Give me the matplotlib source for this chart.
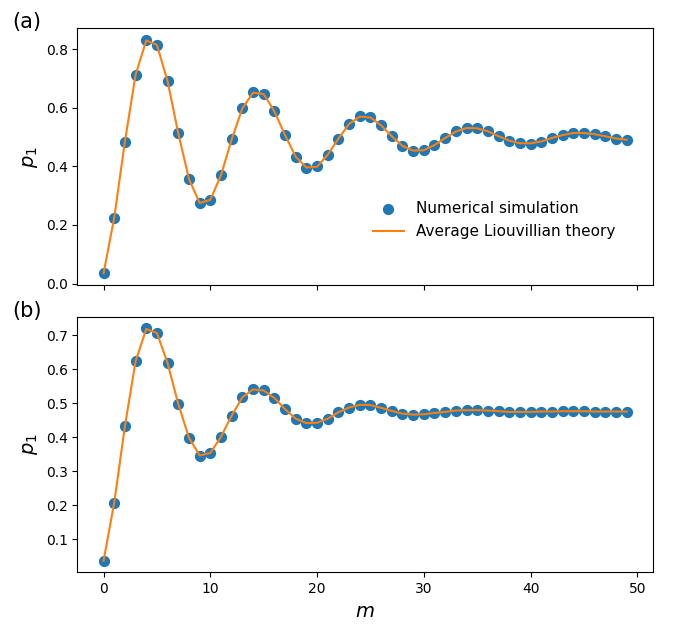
import numpy as np
import matplotlib
matplotlib.use("Agg")
import matplotlib.pyplot as plt

# m values (0..49)
m = np.arange(50)

# panel (a): numerical simulation / theory
p1_sim_a = [0.035, 0.225, 0.485, 0.713, 0.832, 0.816, 0.690, 0.513, 0.357, 0.275,
            0.285, 0.370, 0.492, 0.598, 0.654, 0.648, 0.588, 0.507, 0.433, 0.395,
            0.400, 0.440, 0.495, 0.545, 0.573, 0.568, 0.540, 0.503, 0.470, 0.453,
            0.455, 0.473, 0.497, 0.520, 0.532, 0.531, 0.520, 0.503, 0.487, 0.479,
            0.478, 0.485, 0.497, 0.508, 0.515, 0.515, 0.510, 0.503, 0.495, 0.491]
p1_th_a = [0.035, 0.225, 0.485, 0.713, 0.830, 0.815, 0.690, 0.513, 0.357, 0.275,
           0.286, 0.370, 0.492, 0.598, 0.652, 0.647, 0.588, 0.507, 0.433, 0.396,
           0.399, 0.440, 0.495, 0.545, 0.570, 0.567, 0.540, 0.503, 0.470, 0.454,
           0.455, 0.473, 0.497, 0.519, 0.531, 0.530, 0.520, 0.503, 0.488, 0.479,
           0.479, 0.485, 0.497, 0.507, 0.514, 0.514, 0.510, 0.503, 0.495, 0.491]

# panel (b)
p1_sim_b = [0.036, 0.207, 0.432, 0.623, 0.720, 0.707, 0.617, 0.497, 0.398, 0.345,
            0.353, 0.401, 0.463, 0.517, 0.542, 0.538, 0.515, 0.482, 0.454, 0.440,
            0.442, 0.454, 0.473, 0.486, 0.495, 0.494, 0.486, 0.477, 0.469, 0.465,
            0.467, 0.471, 0.474, 0.478, 0.480, 0.480, 0.478, 0.476, 0.474, 0.473,
            0.474, 0.475, 0.475, 0.476, 0.476, 0.476, 0.475, 0.475, 0.475, 0.475]
p1_th_b = [0.036, 0.207, 0.432, 0.623, 0.718, 0.706, 0.617, 0.497, 0.398, 0.346,
           0.353, 0.401, 0.463, 0.517, 0.540, 0.537, 0.515, 0.482, 0.454, 0.441,
           0.442, 0.454, 0.473, 0.487, 0.495, 0.494, 0.486, 0.477, 0.469, 0.466,
           0.467, 0.471, 0.474, 0.478, 0.479, 0.479, 0.478, 0.476, 0.474, 0.474,
           0.474, 0.475, 0.475, 0.476, 0.476, 0.476, 0.475, 0.475, 0.475, 0.475]

fig = plt.figure(figsize=(6.73, 6.27), dpi=100)
ax1 = fig.add_axes([0.115, 0.5455, 0.855, 0.4095])
ax2 = fig.add_axes([0.115, 0.087, 0.855, 0.408], sharex=ax1)

for ax, sim, th in [(ax1, p1_sim_a, p1_th_a), (ax2, p1_sim_b, p1_th_b)]:
    ax.scatter(m, sim, s=50, color='C0', label='Numerical simulation', zorder=2)
    ax.plot(m, th, color='C1', lw=1.5, label='Average Liouvillian theory', zorder=3)
    ax.set_ylabel('$p_1$', fontsize=14)

ax1.tick_params(labelbottom=False)
ax2.set_xlabel('$m$', fontsize=14)
ax1.set_yticks([0.0, 0.2, 0.4, 0.6, 0.8])
ax2.set_yticks([0.1, 0.2, 0.3, 0.4, 0.5, 0.6, 0.7])

ax1.legend(loc='lower left', bbox_to_anchor=(0.49, 0.125), frameon=False, fontsize=11)

fig.text(0.018, 0.955, '(a)', fontsize=15)
fig.text(0.018, 0.495, '(b)', fontsize=15)

fig.savefig('out.png', dpi=100)
